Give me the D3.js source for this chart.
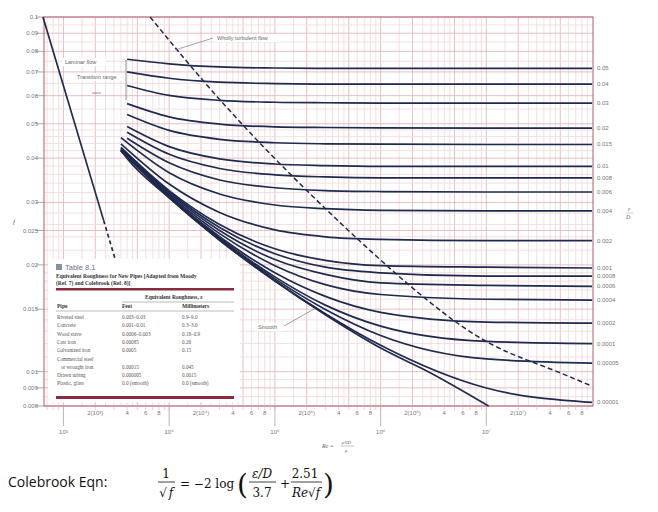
<!DOCTYPE html>
<html>
<head>
<meta charset="utf-8">
<script src="https://cdn.jsdelivr.net/npm/d3@7"></script>
<style>
  body { margin: 0; background: #fff; }
</style>
</head>
<body>
<svg id="chart" width="658" height="512" font-family="Liberation Sans, Arial, sans-serif"></svg>
<script>
// Moody chart

// each curve: relative roughness label, [Re, f] pairs
const roughLabels = ["0.05","0.04","0.03","0.02","0.015","0.01","0.008","0.006","0.004","0.002",
  "0.001","0.0008","0.0006","0.0004","0.0002","0.0001","0.00005","0.00001"];
const curveRe = [4000, 1e4, 3e4, 1e5, 3e5, 1e6, 1e7, 1e8];
const curveF = [
  [0.0760, 0.0738, 0.0723, 0.0718, 0.0716, 0.0716, 0.0716, 0.0716],
  [0.0700, 0.0672, 0.0655, 0.0649, 0.0647, 0.0647, 0.0647, 0.0647],
  [0.0641, 0.0601, 0.0582, 0.0575, 0.0573, 0.0572, 0.0572, 0.0572],
  [0.0570, 0.0523, 0.0499, 0.0490, 0.0488, 0.0487, 0.0486, 0.0486],
  [0.0531, 0.0479, 0.0452, 0.0442, 0.0439, 0.0438, 0.0437, 0.0437],
  [0.0491, 0.0431, 0.0398, 0.0385, 0.0381, 0.0379, 0.0379, 0.0379],
  [0.0473, 0.0410, 0.0374, 0.0359, 0.0354, 0.0352, 0.0352, 0.0352],
  [0.0455, 0.0388, 0.0347, 0.0330, 0.0324, 0.0322, 0.0321, 0.0321],
  [0.0437, 0.0364, 0.0317, 0.0295, 0.0288, 0.0285, 0.0284, 0.0284],
  [0.0419, 0.0338, 0.0281, 0.0251, 0.0240, 0.0236, 0.0234, 0.0234],
  [0.0409, 0.0324, 0.0260, 0.0222, 0.0206, 0.0199, 0.0197, 0.0196],
  [0.0407, 0.0321, 0.0255, 0.0215, 0.0197, 0.0190, 0.0186, 0.0186],
  [0.0405, 0.0318, 0.0250, 0.0207, 0.0188, 0.0178, 0.0175, 0.0174],
  [0.0403, 0.0315, 0.0245, 0.0199, 0.0176, 0.0165, 0.0160, 0.0159],
  [0.0401, 0.0312, 0.0240, 0.0190, 0.0163, 0.0147, 0.0138, 0.0137],
  [0.0400, 0.0311, 0.0238, 0.0185, 0.0154, 0.01344, 0.01217, 0.0120],
  [0.0400, 0.0310, 0.0236, 0.01826, 0.01498, 0.01265, 0.01086, 0.01057],
  [0.0399, 0.0310, 0.0235, 0.01805, 0.01457, 0.01187, 0.00899, 0.00819]
];
const smoothRe = [3500, 4000, 1e4, 3e4, 1e5, 3e5, 1e6, 3e6, 1.05e7];
const smoothF = [0.0420, 0.0399, 0.0309, 0.02346, 0.0180, 0.01446, 0.01165, 0.0099, 0.0080];

const laminarRe = [640, 2400];
const laminarF = [0.1, 0.0267];
const laminarDashRe = [2400, 3700];
const laminarDashF = [0.0267, 0.0173];

const turbRe = [6600, 47000, 1.1e6, 8.7e6, 3.2e7, 1e8];
const turbF = [0.1, 0.049, 0.0197, 0.012, 0.0105, 0.0091];

const yTicks = [0.1, 0.09, 0.08, 0.07, 0.06, 0.05, 0.04, 0.03, 0.025, 0.02, 0.015, 0.01, 0.009, 0.008];
const yGrid = [0.008,0.0085,0.009,0.0095,0.01,0.011,0.012,0.013,0.014,0.015,0.016,0.017,0.018,0.019,0.02,
  0.022,0.024,0.025,0.026,0.028,0.03,0.032,0.034,0.036,0.038,0.04,0.042,0.044,0.046,0.048,0.05,
  0.055,0.06,0.065,0.07,0.075,0.08,0.085,0.09,0.095,0.1];
const xGridMult = [1, 1.5, 2, 2.5, 3, 3.5, 4, 4.5, 5, 6, 7, 8, 9];
const xMinorLabels = ["2(10³)", "4", "6", "8"];
const decades = [3, 4, 5, 6, 7];
const decadeLabels = ["10³", "10⁴", "10⁵", "10⁶", "10⁷"];

const tableRows = [
  ["Riveted steel", "0.003–0.03", "0.9–9.0"],
  ["Concrete", "0.001–0.01", "0.3–3.0"],
  ["Wood stave", "0.0006–0.003", "0.18–0.9"],
  ["Cast iron", "0.00085", "0.26"],
  ["Galvanized iron", "0.0005", "0.15"],
  ["Commercial steel", "", ""],
  ["   or wrought iron", "0.00015", "0.045"],
  ["Drawn tubing", "0.000005", "0.0015"],
  ["Plastic, glass", "0.0 (smooth)", "0.0 (smooth)"]
];

const svg = d3.select("#chart");
const pL = 44, pR = 593, pT = 17, pB = 406;
const x = d3.scaleLog().domain([655, 1.02e8]).range([pL, pR]);
const y = d3.scaleLog().domain([0.008, 0.1]).range([pB, pT]);
const navy = "#1e2a4e";

// grid
const g = svg.append("g");
const xg = [];
[2, 3, 4, 5, 6, 7].forEach(d => xGridMult.forEach(m => {
  const v = m * Math.pow(10, d);
  if (v > 655 && v < 1e8) xg.push({ v: v, m: m });
}));
g.selectAll(".vg").data(xg).enter().append("line")
  .attr("x1", d => x(d.v)).attr("x2", d => x(d.v)).attr("y1", pT).attr("y2", pB)
  .attr("stroke", d => [1, 2, 5].includes(d.m) ? "#dfb0b6" : "#f0d8db")
  .attr("stroke-width", 0.8);
g.selectAll(".hg").data(yGrid).enter().append("line")
  .attr("x1", pL).attr("x2", pR).attr("y1", d => y(d)).attr("y2", d => y(d))
  .attr("stroke", d => yTicks.includes(d) ? "#dfb0b6" : "#f0d8db").attr("stroke-width", 0.8);
svg.append("rect").attr("x", pL).attr("y", pT).attr("width", pR - pL).attr("height", pB - pT)
  .attr("fill", "none").attr("stroke", "#b85a68").attr("stroke-width", 1);

// y axis
const ya = svg.append("g");
ya.selectAll("line").data(yTicks).enter().append("line")
  .attr("x1", pL - 8).attr("x2", pL).attr("y1", d => y(d)).attr("y2", d => y(d))
  .attr("stroke", "#888").attr("stroke-width", 0.7);
ya.selectAll("text").data(yTicks).enter().append("text")
  .attr("x", pL - 6).attr("y", d => y(d) + 2).attr("text-anchor", "end")
  .attr("font-size", 6).attr("fill", "#777").text(d => d);
svg.append("text").attr("x", 13).attr("y", 224).attr("font-size", 7).attr("font-style", "italic")
  .attr("font-family", "Liberation Serif").attr("fill", "#555").text("f");

// x axis
decades.forEach((d, i) => {
  const base = Math.pow(10, d);
  svg.append("line").attr("x1", x(base)).attr("x2", x(base)).attr("y1", pB).attr("y2", pB + 20)
    .attr("stroke", "#999").attr("stroke-width", 0.7);
  svg.append("text").attr("x", x(base)).attr("y", pB + 28).attr("text-anchor", "middle")
    .attr("font-size", 6).attr("fill", "#777").text(decadeLabels[i]);
  [2, 4, 6, 8].forEach((m, j) => {
    const lab = j === 0 ? "2(10" + decadeLabels[i].slice(2) + ")" : xMinorLabels[j];
    svg.append("text").attr("x", x(m * base)).attr("y", pB + 9).attr("text-anchor", "middle")
      .attr("font-size", 6).attr("fill", "#777").text(lab);
  });
});
d3.range(1, 10).forEach(m => [2, 3, 4, 5, 6, 7].forEach(d => {
  const v = m * Math.pow(10, d);
  if (v > 655 && v < 1e8) svg.append("line").attr("x1", x(v)).attr("x2", x(v)).attr("y1", pB).attr("y2", pB + 4)
    .attr("stroke", "#bbb").attr("stroke-width", 0.6);
}));
svg.append("text").attr("x", 322).attr("y", 448).attr("font-size", 6)
  .attr("font-family", "Liberation Serif").attr("font-style", "italic").attr("fill", "#666").text("Re = ");
svg.append("text").attr("x", 342).attr("y", 444).attr("font-size", 5).attr("font-family", "Liberation Serif")
  .attr("font-style", "italic").attr("fill", "#666").text("ρVD");
svg.append("line").attr("x1", 341).attr("x2", 354).attr("y1", 446).attr("y2", 446).attr("stroke", "#777").attr("stroke-width", 0.4);
svg.append("text").attr("x", 345).attr("y", 452).attr("font-size", 5).attr("font-family", "Liberation Serif")
  .attr("font-style", "italic").attr("fill", "#666").text("μ");

// curves
const line = d3.line().x(d => x(d[0])).y(d => y(d[1])).curve(d3.curveMonotoneX);
curveF.forEach((fs, i) => {
  const pts = curveRe.map((r, k) => [r, fs[k]]);
  if (i >= 8) pts[0] = [3500, fs[0] + 0.002];
  svg.append("path").attr("d", line(pts)).attr("fill", "none").attr("stroke", navy).attr("stroke-width", 1.7);
  svg.append("text").attr("x", pR + 4).attr("y", y(fs[7]) + 2).attr("font-size", 6).attr("fill", "#777").text(roughLabels[i]);
});
svg.append("path").attr("d", line(smoothRe.map((r, k) => [r, smoothF[k]]))).attr("fill", "none")
  .attr("stroke", navy).attr("stroke-width", 1.7);
svg.append("path").attr("d", line(laminarRe.map((r, k) => [r, laminarF[k]]))).attr("fill", "none")
  .attr("stroke", navy).attr("stroke-width", 1.7);
svg.append("path").attr("d", line(laminarDashRe.map((r, k) => [r, laminarDashF[k]]))).attr("fill", "none")
  .attr("stroke", navy).attr("stroke-width", 1.7).attr("stroke-dasharray", "4,3");
svg.append("path").attr("d", d3.line().x(d => x(d[0])).y(d => y(d[1])).curve(d3.curveBasis)(turbRe.map((r, k) => [r, turbF[k]])))
  .attr("fill", "none").attr("stroke", navy).attr("stroke-width", 1.5).attr("stroke-dasharray", "5,3");

// eps/D label
svg.append("text").attr("x", 628).attr("y", 211).attr("font-size", 6).attr("font-style", "italic")
  .attr("font-family", "Liberation Serif").attr("fill", "#666").text("ε");
svg.append("line").attr("x1", 626).attr("x2", 633).attr("y1", 213).attr("y2", 213).attr("stroke", "#888").attr("stroke-width", 0.4);
svg.append("text").attr("x", 626).attr("y", 219).attr("font-size", 6).attr("font-style", "italic")
  .attr("font-family", "Liberation Serif").attr("fill", "#666").text("D");

// annotations
const ann = (tx, ty, t) => svg.append("text").attr("x", tx).attr("y", ty).attr("font-size", 5.5).attr("fill", "#666").text(t);
svg.append("rect").attr("x", 62).attr("y", 58).attr("width", 44).attr("height", 8).attr("fill", "#fff");
ann(65, 64, "Laminar flow");
svg.append("rect").attr("x", 74).attr("y", 73).attr("width", 52).attr("height", 8).attr("fill", "#fff");
ann(77, 79, "Transition range");
svg.append("line").attr("x1", 92).attr("x2", 101).attr("y1", 93).attr("y2", 93).attr("stroke", "#555").attr("stroke-width", 0.6);
svg.append("line").attr("x1", 126).attr("x2", 126).attr("y1", 60).attr("y2", 100).attr("stroke", "#555").attr("stroke-width", 0.6);
svg.append("rect").attr("x", 214).attr("y", 34).attr("width", 66).attr("height", 8).attr("fill", "#fff");
ann(217, 40, "Wholly turbulent flow");
svg.append("line").attr("x1", 213).attr("x2", 175).attr("y1", 38).attr("y2", 50).attr("stroke", "#666").attr("stroke-width", 0.6);
svg.append("rect").attr("x", 255).attr("y", 323).attr("width", 28).attr("height", 8).attr("fill", "#fff");
ann(258, 329, "Smooth");
svg.append("line").attr("x1", 284).attr("x2", 314).attr("y1", 326).attr("y2", 309).attr("stroke", "#666").attr("stroke-width", 0.6);

// table 8.1
const tb = svg.append("g").attr("font-family", "Liberation Serif").attr("fill", "#555");
tb.append("rect").attr("x", 48).attr("y", 259).attr("width", 192).attr("height", 143).attr("fill", "#fff");
tb.append("rect").attr("x", 56).attr("y", 264).attr("width", 6).attr("height", 6).attr("fill", "#8a8fa8");
tb.append("text").attr("x", 65).attr("y", 270).attr("font-family", "Liberation Sans").attr("font-size", 7.5).attr("fill", "#6a6f8a").text("Table 8.1");
tb.append("text").attr("x", 56).attr("y", 278).attr("font-size", 5.5).attr("font-weight", "bold").attr("fill", "#333")
  .text("Equivalent Roughness for New Pipes [Adapted from Moody");
tb.append("text").attr("x", 56).attr("y", 285).attr("font-size", 5.5).attr("font-weight", "bold").attr("fill", "#333")
  .text("(Ref. 7) and Colebrook (Ref. 8)]");
tb.append("rect").attr("x", 56).attr("y", 288).attr("width", 178).attr("height", 2.5).attr("fill", "#8b2a3e");
tb.append("text").attr("x", 145).attr("y", 299).attr("font-size", 5.5).attr("font-weight", "bold").attr("fill", "#333").text("Equivalent Roughness, ε");
tb.append("line").attr("x1", 122).attr("x2", 234).attr("y1", 302).attr("y2", 302).attr("stroke", "#777").attr("stroke-width", 0.5);
[["Pipe", 57], ["Feet", 122], ["Millimeters", 182]].forEach(h =>
  tb.append("text").attr("x", h[1]).attr("y", 308).attr("font-size", 5.5).attr("font-weight", "bold").attr("fill", "#333").text(h[0]));
tb.append("line").attr("x1", 56).attr("x2", 234).attr("y1", 311).attr("y2", 311).attr("stroke", "#777").attr("stroke-width", 0.5);
tableRows.forEach((r, i) => {
  const ry = 319 + i * 8.3;
  [57, 122, 182].forEach((cx, j) =>
    tb.append("text").attr("x", cx).attr("y", ry).attr("font-size", 5.2).attr("xml:space", "preserve").text(r[j]));
});
tb.append("rect").attr("x", 56).attr("y", 396).attr("width", 178).attr("height", 3).attr("fill", "#8b2a3e");

// Colebrook equation
svg.append("text").attr("x", 8).attr("y", 487).attr("font-size", 14).attr("font-family", "Open Sans").attr("fill", "#111").text("Colebrook Eqn:");
const eq = svg.append("g").attr("font-family", "DejaVu Serif").attr("fill", "#111");
const tx = (ex, ey, t, opt = {}) => eq.append("text").attr("x", ex).attr("y", ey).attr("text-anchor", opt.a || "start")
  .attr("font-style", opt.i ? "italic" : "normal").attr("font-size", opt.s || 12).text(t);
const bar = (x1, x2, by) => eq.append("line").attr("x1", x1).attr("x2", x2).attr("y1", by).attr("y2", by).attr("stroke", "#111").attr("stroke-width", 0.8);
tx(166, 478, "1", { a: "middle" });
bar(158, 175, 482);
tx(163, 497, "√", { a: "middle" }); tx(171, 497, "f", { a: "middle", i: true });
tx(180, 488, "= −2 log");
tx(237, 494, "(", { s: 28 });
tx(262, 478, "ε/D", { a: "middle", i: true });
bar(249, 276, 482);
tx(262, 497, "3.7", { a: "middle" });
tx(280, 488, "+");
tx(305, 478, "2.51", { a: "middle" });
bar(291, 322, 482);
tx(306, 497, "Re√f", { a: "middle", i: true });
tx(323, 494, ")", { s: 28 });
</script>
</body>
</html>
